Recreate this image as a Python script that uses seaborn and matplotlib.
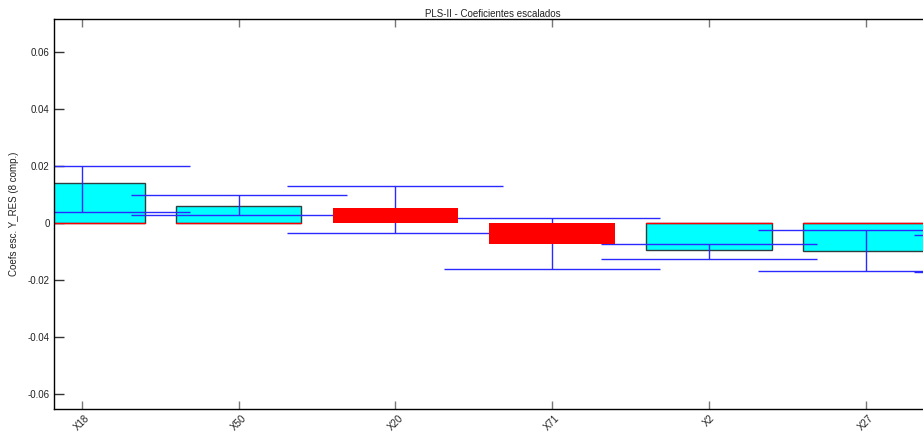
import matplotlib
matplotlib.use("Agg")
import matplotlib.pyplot as plt
import seaborn as sns
import numpy as np
import pandas as pd

# ---- data ----
variables = ["X18", "X50", "X20", "X71", "X2", "X27", "X9"]
coefs     = [0.0140, 0.0060, 0.0052, -0.0074, -0.0095, -0.0098, -0.0107]
ci_low    = [0.0039, 0.0028, -0.0035, -0.0161, -0.0126, -0.0168, -0.0172]
ci_high   = [0.0200, 0.0098, 0.0131, 0.0018, -0.0075, -0.0025, -0.0042]
yticks    = [-0.06, -0.04, -0.02, 0, 0.02, 0.04, 0.06]
ytick_labels = ["-0.06", "-0.04", "-0.02", "0", "0.02", "0.04", "0.06"]
title = "PLS-II - Coeficientes escalados"
ylabel = "Coefs esc. Y_RES (8 comp.)"

df = pd.DataFrame({"var": variables, "coef": coefs, "lo": ci_low, "hi": ci_high})
df["signif"] = ~((df["lo"] <= 0) & (df["hi"] >= 0))
colors = ["#00ffff" if s else "#ff0000" for s in df["signif"]]

sns.set_style("white")
plt.rcParams["font.family"] = ["Liberation Sans", "DejaVu Sans"]

fig = plt.figure(figsize=(9.23, 4.32), dpi=100)
ax = fig.add_axes([54/923, 23/432, (932-54)/923, (409-19)/432])

sns.barplot(data=df, x="var", y="coef", hue="var", palette=colors, legend=False,
            width=0.8, ax=ax, errorbar=None, saturation=1, order=variables)

for p, s in zip(ax.patches, df["signif"]):
    if s:
        p.set_edgecolor("#2f3f3f")
        p.set_linewidth(1.0)
        p.set_zorder(1)
        x0 = p.get_x(); w = p.get_width()
        ax.plot([x0, x0 + w], [0, 0], color="red", lw=1.0, zorder=1.5)
    else:
        p.set_edgecolor("none")
        p.set_zorder(3)

xpos = np.arange(len(variables))
mid = (df["lo"].values + df["hi"].values) / 2
ax.errorbar(xpos, mid, yerr=[mid - df["lo"].values, df["hi"].values - mid],
            fmt="none", ecolor="#2a2aff", elinewidth=1.0, capthick=1.0,
            capsize=77.8, zorder=2)

ax.set_yticks(yticks)
ax.set_yticklabels(ytick_labels)
ax.set_xticks(xpos)
ax.set_xticklabels(variables, rotation=45, ha="center", va="top")

ax.tick_params(axis="y", direction="in", length=7, width=1, labelsize=7,
               color="#333333", labelcolor="#222222", left=True, right=False, pad=3)
ax.tick_params(axis="x", direction="in", length=6, width=1, labelsize=7,
               color="#777777", labelcolor="#222222", bottom=True, top=True, pad=3)
ax.set_xlabel("")
ax.set_ylabel(ylabel, fontsize=7, color="#222222", labelpad=6)
ax.set_title(title, fontsize=7, color="#222222", pad=1.5)

for side in ["left", "bottom", "top"]:
    ax.spines[side].set_visible(True)
    ax.spines[side].set_color("black")
    ax.spines[side].set_linewidth(1.0)
ax.spines["right"].set_visible(False)

# limits last (set_xticks would otherwise widen the view)
ax.set_xlim(-0.179, 5.424)
ax.set_ylim(-0.0653, 0.0716)

fig.savefig("out.png", dpi=100)
